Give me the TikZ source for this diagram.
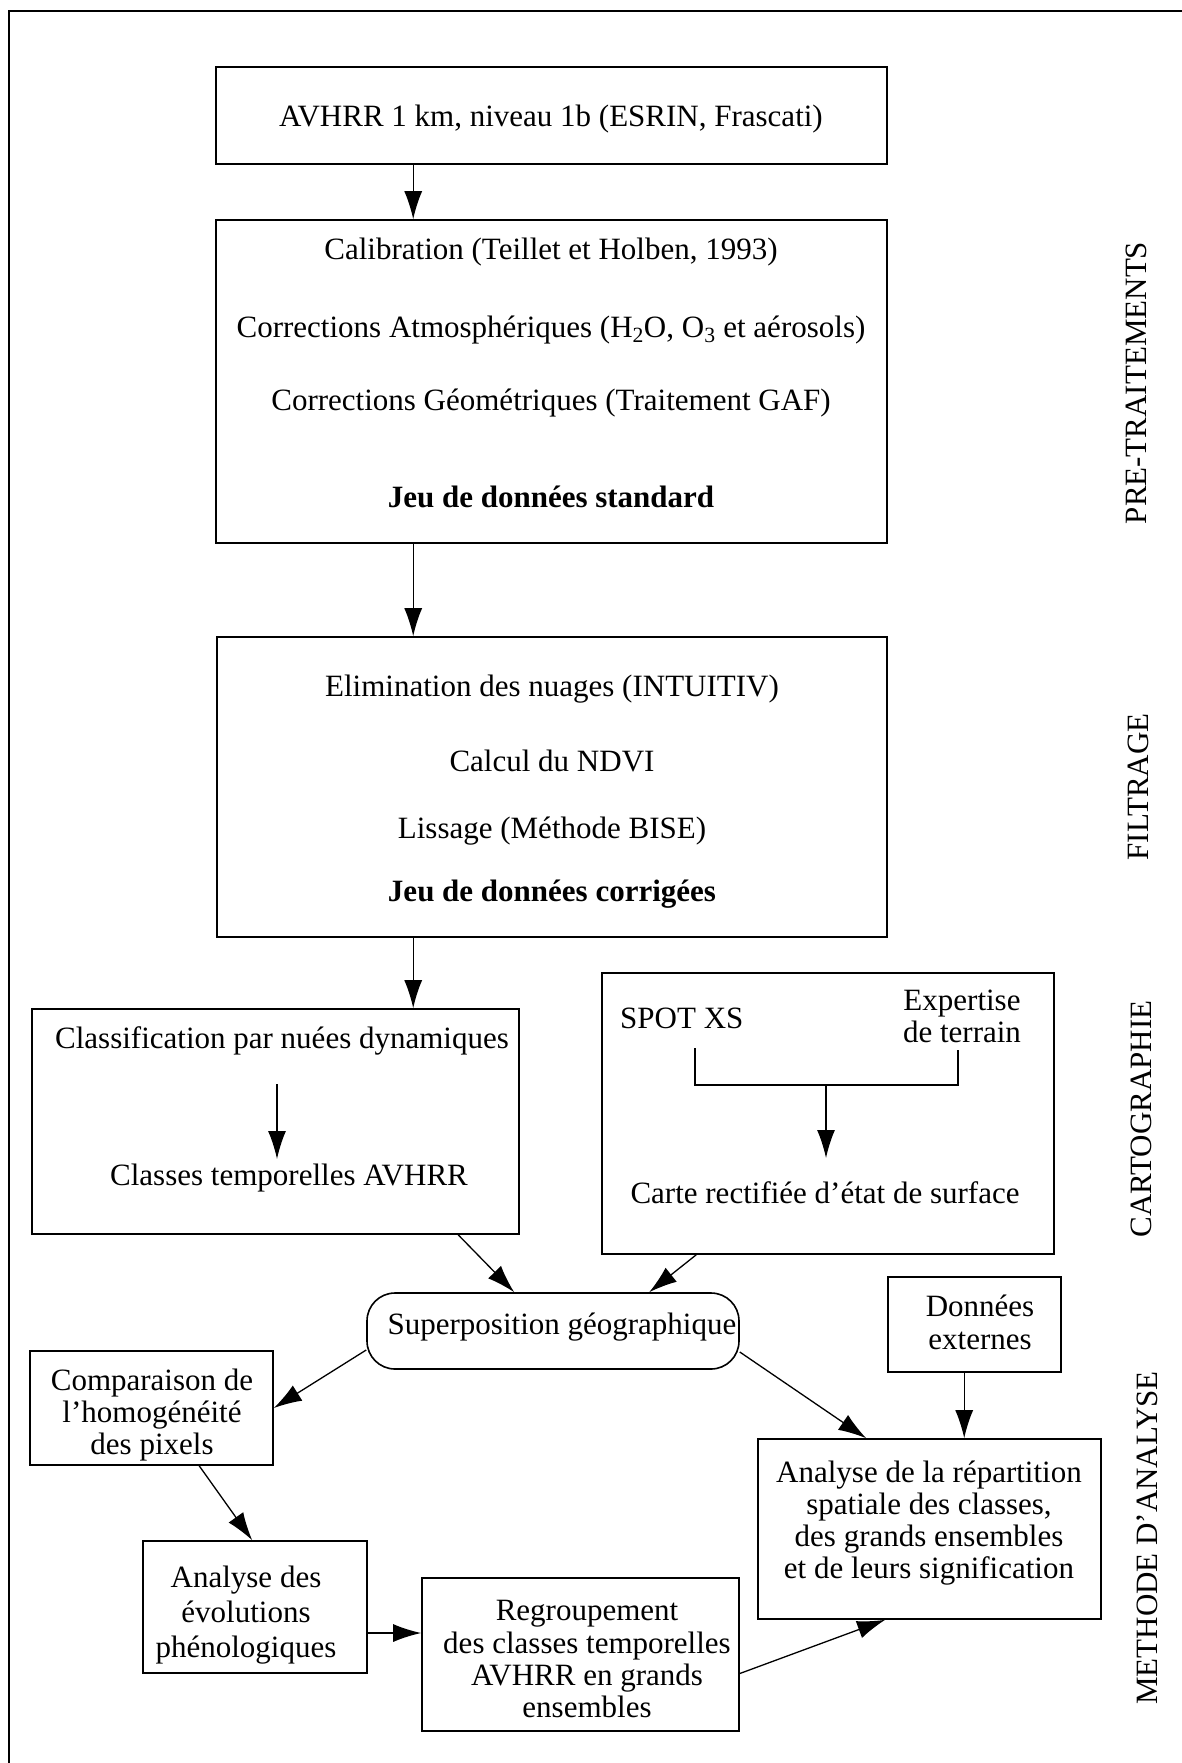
\documentclass[tikz,border=0pt]{standalone}
\usepackage{fontspec}
\setmainfont{Liberation Serif}
\usetikzlibrary{arrows.meta}
\begin{document}
\begin{tikzpicture}[x=1pt,y=-1pt,
  box/.style={draw, line width=1.6pt, inner sep=0pt},
  tx/.style={font=\fontsize{31}{36}\selectfont, inner sep=0pt, anchor=base},
  txb/.style={tx, font=\fontsize{31}{36}\selectfont\bfseries},
  side/.style={font=\fontsize{31}{36}\selectfont, inner sep=0pt, rotate=90, anchor=center},
  arr/.style={line width=1.3pt, -{Latex[length=28pt,width=18pt]}},
  ln/.style={line width=1.3pt}]
\useasboundingbox (0,0) rectangle (1182,1763);
% outer frame (top and left only)
\coordinate (fTL) at (9,11);
\coordinate (fTR) at (1182,11);
\coordinate (fBL) at (9,1763);
\draw[line width=1.6pt] (fTR) -- (fTL) -- (fBL);

% boxes
\node[box, minimum width=671pt, minimum height=97pt]  (b1) at (551.5,115.5) {};
\node[box, minimum width=671pt, minimum height=323pt] (b2) at (551.5,381.5) {};
\node[box, minimum width=670pt, minimum height=300pt] (b3) at (552,787) {};
\node[box, minimum width=487pt, minimum height=225pt] (b4) at (275.5,1121.5) {};
\node[box, minimum width=452pt, minimum height=281pt] (b5) at (828,1113.5) {};
\node[box, rounded corners=28pt, minimum width=372pt, minimum height=76pt] (sup) at (553,1331) {};
\node[box, minimum width=173pt, minimum height=95pt]  (ext) at (974.5,1324.5) {};
\node[box, minimum width=243pt, minimum height=114pt] (comp) at (151.5,1408) {};
\node[box, minimum width=224pt, minimum height=132pt] (phen) at (255,1607) {};
\node[box, minimum width=317pt, minimum height=153pt] (regr) at (580.5,1654.5) {};
\node[box, minimum width=343pt, minimum height=180pt] (ana) at (929.5,1529) {};

% texts
\node[tx] (t1) at (551,127) {AVHRR 1 km, niveau 1b (ESRIN, Frascati)};
\node[tx] (t2a) at (551,259) {Calibration (Teillet et Holben, 1993)};
\node[tx] (t2b) at (551,337) {Corrections Atmosphériques (H\textsubscript{2}O, O\textsubscript{3} et aérosols)};
\node[tx] (t2c) at (551,410) {Corrections Géométriques (Traitement GAF)};
\node[txb] (t2d) at (551,507) {Jeu de données standard};
\node[tx] (t3a) at (552,696) {Elimination des nuages (INTUITIV)};
\node[tx] (t3b) at (552,771) {Calcul du NDVI};
\node[tx] (t3c) at (552,838) {Lissage (Méthode BISE)};
\node[txb] (t3d) at (552,901) {Jeu de données corrigées};
\node[tx] (t4a) at (282,1048) {Classification par nuées dynamiques};
\node[tx] (t4b) at (289,1185) {Classes temporelles AVHRR};
\node[tx, anchor=base west] (t5a) at (620,1028) {SPOT XS};
\node[tx] (t5b) at (962,1010) {Expertise};
\node[tx] (t5c) at (962,1042) {de terrain};
\node[tx] (t5d) at (825,1203) {Carte rectifiée d’état de surface};
\node[tx] (ts) at (562,1334) {Superposition géographique};
\node[tx] (te1) at (980,1316) {Données};
\node[tx] (te2) at (980,1349) {externes};
\node[tx] (tc1) at (152,1390) {Comparaison de};
\node[tx] (tc2) at (152,1422) {l’homogénéité};
\node[tx] (tc3) at (152,1454) {des pixels};
\node[tx] (tp1) at (246,1587) {Analyse des};
\node[tx] (tp2) at (246,1622) {évolutions};
\node[tx] (tp3) at (246,1657) {phénologiques};
\node[tx] (tr1) at (587,1620) {Regroupement};
\node[tx] (tr2) at (587,1653) {des classes temporelles};
\node[tx] (tr3) at (587,1685) {AVHRR en grands};
\node[tx] (tr4) at (587,1717) {ensembles};
\node[tx] (ta1) at (929,1482) {Analyse de la répartition};
\node[tx] (ta2) at (929,1514) {spatiale des classes,};
\node[tx] (ta3) at (929,1546) {des grands ensembles};
\node[tx] (ta4) at (929,1578) {et de leurs signification};

% side labels
\node[side] (s1) at (1136,383) {PRE-TRAITEMENTS};
\node[side] (s2) at (1138,787) {FILTRAGE};
\node[side] (s3) at (1141,1119) {CARTOGRAPHIE};
\node[side] (s4) at (1147,1538) {METHODE D’ANALYSE};

% main vertical arrows
\draw[arr] ([xshift=198pt]b1.south west) -- ([xshift=198pt]b2.north west);
\draw[arr] ([xshift=198pt]b2.south west) -- ([xshift=197pt]b3.north west);
\draw[arr] ([xshift=197pt]b3.south west) -- ([xshift=382pt]b4.north west);

% inner arrow in classification box
\coordinate (c4s) at (277,1084);
\coordinate (c4e) at (277,1159);
\draw[arr] (c4s) -- (c4e);

% bracket in SPOT box
\coordinate (k1) at (695,1048);
\coordinate (k2) at (695,1085);
\coordinate (k3) at (958,1085);
\coordinate (k4) at (958,1050);
\coordinate (km) at (826,1085);
\coordinate (ke) at (826,1158);
\draw[ln] (k1) -- (k2) -- (k3) -- (k4);
\draw[arr] (km) -- (ke);

% lower connectors
\draw[arr] ([xshift=427pt]b4.south west) -- ([xshift=148pt]sup.north west);
\draw[arr] ([xshift=95pt]b5.south west) -- ([xshift=283pt]sup.north west);
\draw[arr] ([yshift=-19pt]sup.west) -- ([yshift=0pt]comp.east);
\draw[arr] ([yshift=-21pt]sup.east) -- ([xshift=109pt]ana.north west);
\draw[arr] ([xshift=77pt]ext.south west) -- ([xshift=207pt]ana.north west);
\draw[arr] ([xshift=170pt]comp.south west) -- ([xshift=110pt]phen.north west);
\draw[arr] ([yshift=-26pt]phen.east) -- ([yshift=21.5pt]regr.west);
\draw[arr] ([yshift=-19pt]regr.east) -- ([xshift=128pt]ana.south west);
\end{tikzpicture}
\end{document}
